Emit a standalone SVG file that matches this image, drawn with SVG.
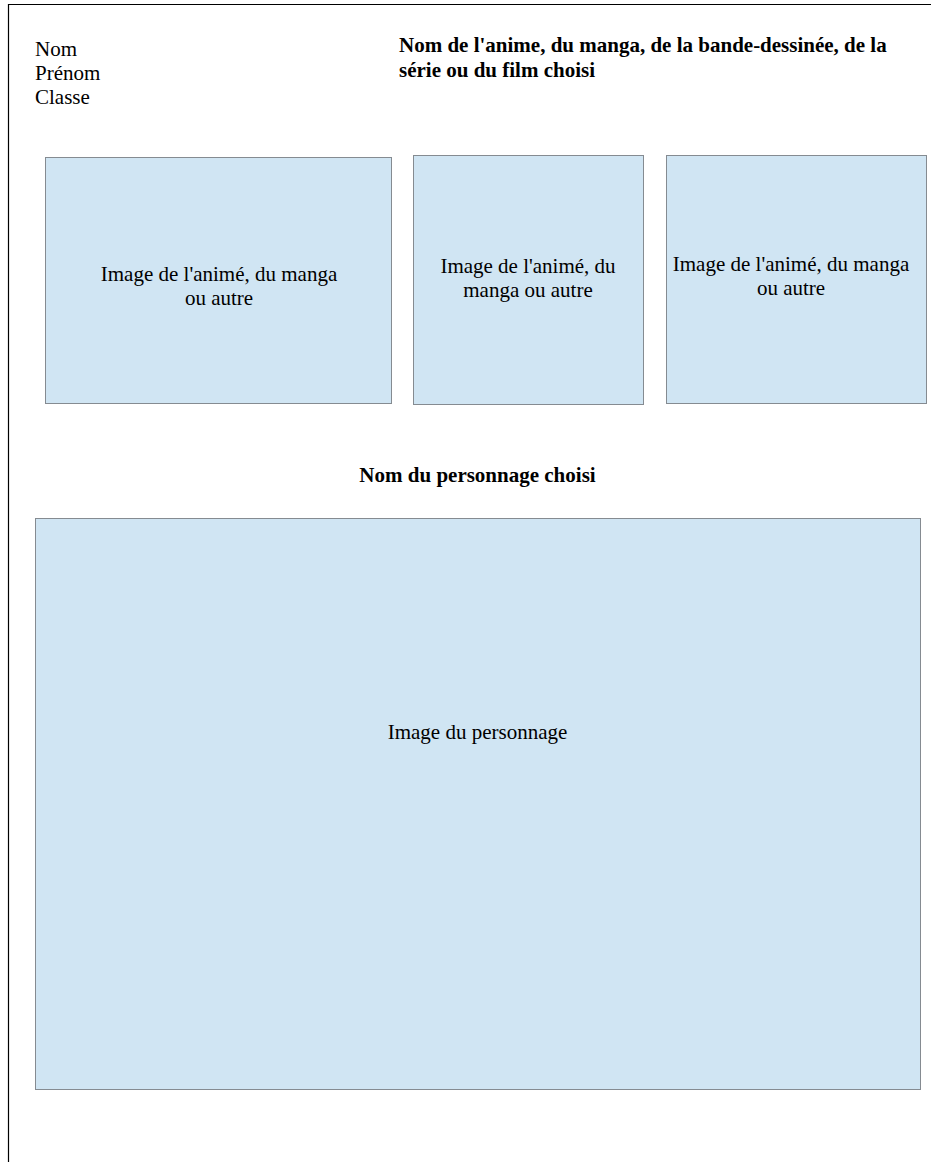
<svg xmlns="http://www.w3.org/2000/svg" width="931" height="1162" viewBox="0 0 931 1162">
<style>
.box{fill:#d0e5f3;stroke:#858b91;stroke-width:1}
.t{font-family:"Liberation Serif","Times New Roman",serif;font-size:21px;fill:#000}
.b{font-weight:bold}
.c{text-anchor:middle}
</style>
<rect width="931" height="1162" fill="#ffffff"/>
<g id="page-border">
<path d="M8.5 1162 V4.5 H931" fill="none" stroke="#000" stroke-width="1.2"/>
</g>
<g id="student-info">
<text class="t" x="35" y="56">Nom</text>
<text class="t" x="35" y="80">Prénom</text>
<text class="t" x="35" y="104">Classe</text>
</g>
<g id="title">
<text class="t b" x="399" y="52">Nom de l'anime, du manga, de la bande-dessinée, de la</text>
<text class="t b" x="399" y="77">série ou du film choisi</text>
</g>
<g id="image-1">
<rect class="box" x="45.5" y="157.5" width="346" height="246"/>
<text class="t c" x="219" y="281">Image de l'animé, du manga</text>
<text class="t c" x="219" y="305">ou autre</text>
</g>
<g id="image-2">
<rect class="box" x="413.5" y="155.5" width="230" height="249"/>
<text class="t c" x="528" y="273">Image de l'animé, du</text>
<text class="t c" x="528" y="297">manga ou autre</text>
</g>
<g id="image-3">
<rect class="box" x="666.5" y="155.5" width="260" height="248"/>
<text class="t c" x="791" y="271">Image de l'animé, du manga</text>
<text class="t c" x="791" y="295">ou autre</text>
</g>
<g id="character-name">
<text class="t b c" x="477.5" y="482">Nom du personnage choisi</text>
</g>
<g id="character-image">
<rect class="box" x="35.5" y="518.5" width="885" height="571"/>
<text class="t c" x="477.5" y="739">Image du personnage</text>
</g>
<g id="connectors"/>
</svg>
